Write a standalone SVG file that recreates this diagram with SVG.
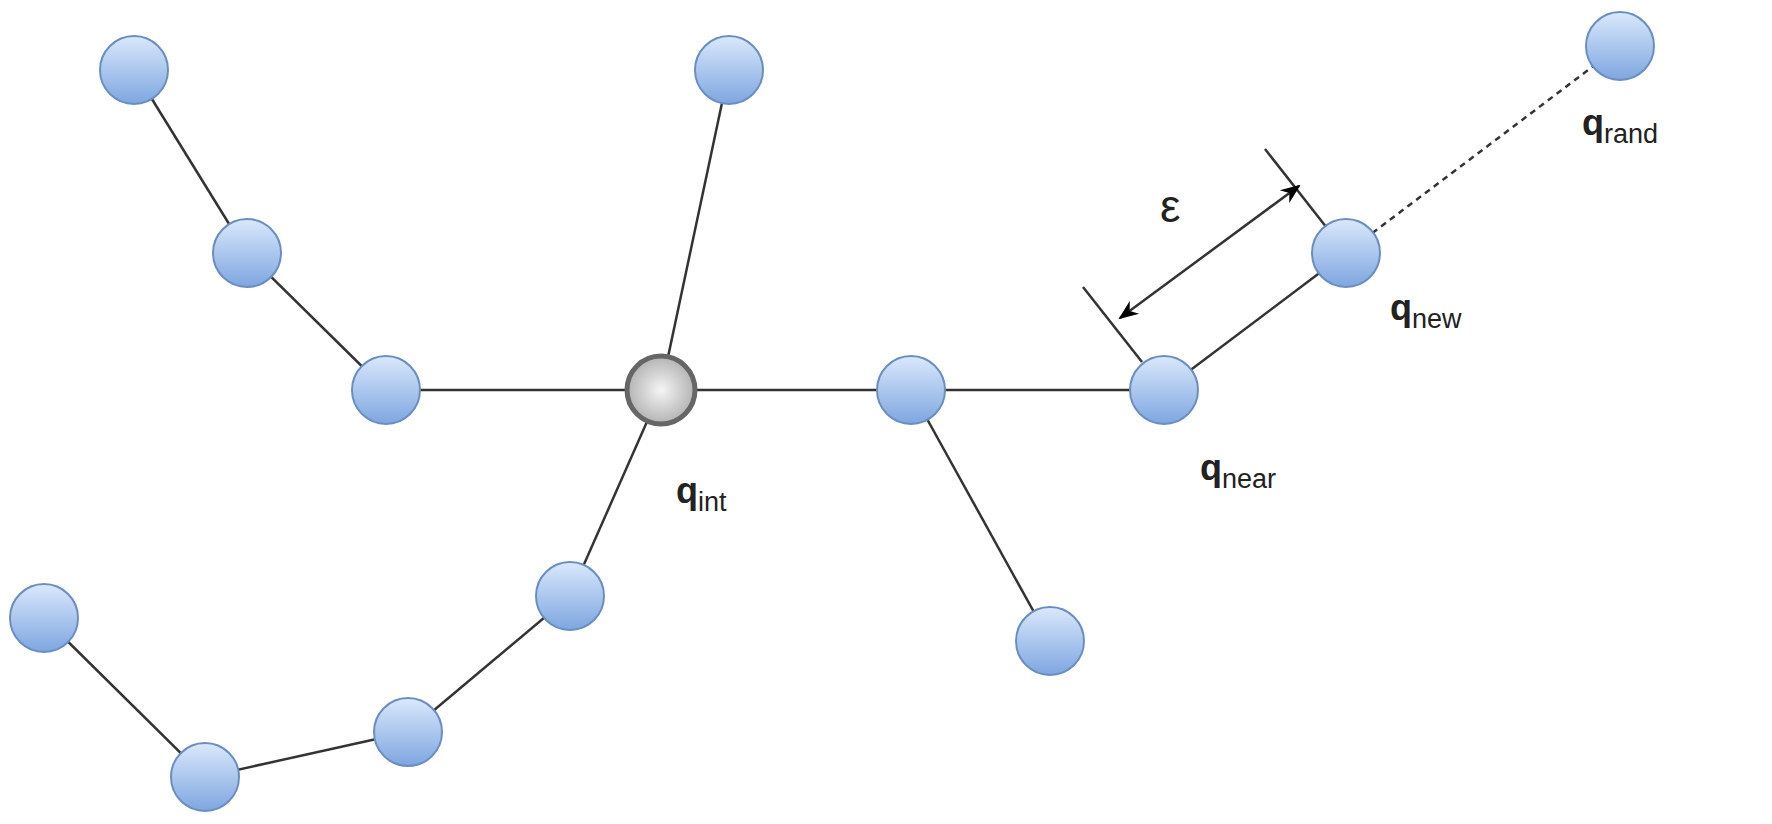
<svg xmlns="http://www.w3.org/2000/svg" width="1772" height="824" viewBox="0 0 1772 824">
<defs>
<linearGradient id="bl" x1="0" y1="0" x2="0" y2="1"><stop offset="0" stop-color="#dae8fc"/><stop offset="1" stop-color="#7ea6e0"/></linearGradient>
<radialGradient id="gr" cx="0.5" cy="0.5" r="0.5"><stop offset="0" stop-color="#f5f5f5"/><stop offset="1" stop-color="#b3b3b3"/></radialGradient>
<marker id="ah" viewBox="0 0 10 10" refX="9" refY="5" markerWidth="8" markerHeight="8" orient="auto-start-reverse"><path d="M0,1 L10,5 L0,9 L3,5 z" fill="#000"/></marker>
<style>
.n{fill:url(#bl);stroke:#6c8ebf;stroke-width:2}
.e{stroke:#333;stroke-width:2.5;fill:none}
.t{font-family:"Liberation Sans",Arial,sans-serif;fill:#222}
</style>
</defs>
<g id="connectors">
<line class="e" x1="134" y1="70" x2="247" y2="253"/>
<line class="e" x1="247" y1="253" x2="386" y2="390"/>
<line class="e" x1="386" y1="390" x2="661" y2="390"/>
<line class="e" x1="661" y1="390" x2="729" y2="70"/>
<line class="e" x1="661" y1="390" x2="911" y2="390"/>
<line class="e" x1="911" y1="390" x2="1164" y2="390"/>
<line class="e" x1="1164" y1="390" x2="1346" y2="253"/>
<line class="e" x1="1346" y1="253" x2="1620" y2="46" stroke-dasharray="6 5"/>
<line class="e" x1="911" y1="390" x2="1050" y2="641"/>
<line class="e" x1="661" y1="390" x2="570" y2="596"/>
<line class="e" x1="570" y1="596" x2="408" y2="732"/>
<line class="e" x1="408" y1="732" x2="205" y2="777"/>
<line class="e" x1="205" y1="777" x2="44" y2="618"/>
<line class="e" x1="1265" y1="149" x2="1327" y2="228"/>
<line class="e" x1="1083" y1="287" x2="1142" y2="362"/>
<line class="e" x1="1299" y1="186" x2="1120" y2="318" marker-start="url(#ah)" marker-end="url(#ah)"/>
</g>
<g id="nA"><circle class="n" cx="134" cy="70" r="34"/></g>
<g id="nB"><circle class="n" cx="247" cy="253" r="34"/></g>
<g id="nC"><circle class="n" cx="386" cy="390" r="34"/></g>
<g id="nInt"><circle cx="661" cy="390" r="34" fill="url(#gr)" stroke="#666" stroke-width="5"/></g>
<g id="nD"><circle class="n" cx="729" cy="70" r="34"/></g>
<g id="nE"><circle class="n" cx="911" cy="390" r="34"/></g>
<g id="nNear"><circle class="n" cx="1164" cy="390" r="34"/></g>
<g id="nNew"><circle class="n" cx="1346" cy="253" r="34"/></g>
<g id="nRand"><circle class="n" cx="1620" cy="46" r="34"/></g>
<g id="nI"><circle class="n" cx="1050" cy="641" r="34"/></g>
<g id="nJ"><circle class="n" cx="570" cy="596" r="34"/></g>
<g id="nK"><circle class="n" cx="408" cy="732" r="34"/></g>
<g id="nL"><circle class="n" cx="205" cy="777" r="34"/></g>
<g id="nM"><circle class="n" cx="44" cy="618" r="34"/></g>
<g id="labels">
<text class="t" x="1160" y="222" font-family="Liberation Serif,serif" font-size="46">ε</text>
<text class="t" x="676" y="503" font-size="36"><tspan font-weight="bold">q</tspan><tspan font-size="27" dy="8">int</tspan></text>
<text class="t" x="1200" y="480" font-size="36"><tspan font-weight="bold">q</tspan><tspan font-size="27" dy="8">near</tspan></text>
<text class="t" x="1390" y="320" font-size="36"><tspan font-weight="bold">q</tspan><tspan font-size="27" dy="8">new</tspan></text>
<text class="t" x="1582" y="135" font-size="36"><tspan font-weight="bold">q</tspan><tspan font-size="27" dy="8">rand</tspan></text>
</g>
</svg>
